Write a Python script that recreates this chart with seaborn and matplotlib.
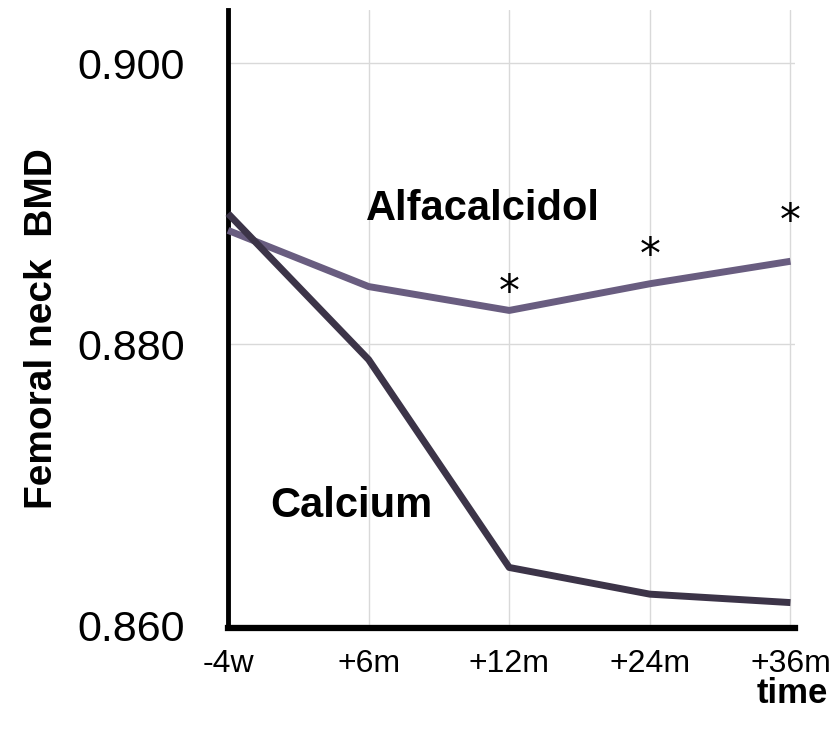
import matplotlib
matplotlib.use("Agg")
import matplotlib.pyplot as plt
import seaborn as sns
import pandas as pd

categories = ["-4w", "+6m", "+12m", "+24m", "+36m"]
alfacalcidol = [0.8881, 0.8841, 0.8824, 0.8843, 0.8859]
calcium = [0.8893, 0.8789, 0.8641, 0.8622, 0.8616]
star_positions = ["+12m", "+24m", "+36m"]
y_ticks = [0.860, 0.880, 0.900]
y_tick_labels = ["0.860", "0.880", "0.900"]

sns.set_theme(style="white", rc={"text.color": "black", "xtick.color": "black",
                                 "ytick.color": "black", "axes.labelcolor": "black"})
plt.rcParams["font.family"] = ["Liberation Sans", "DejaVu Sans"]

pos = {c: i for i, c in enumerate(categories)}
df = pd.DataFrame({
    "time": [pos[c] for c in categories] * 2,
    "BMD": alfacalcidol + calcium,
    "group": ["Alfacalcidol"] * len(categories) + ["Calcium"] * len(categories),
})

fig = plt.figure(figsize=(8.33, 7.34), dpi=100)
ax = fig.add_axes([0.2737, 0.1444, 0.6803, 0.8416])

sns.lineplot(data=df, x="time", y="BMD", hue="group",
             palette={"Alfacalcidol": "#695d80", "Calcium": "#3c3448"},
             linewidth=5, sort=False, legend=False, ax=ax, zorder=3)
for ln in ax.lines:
    ln.set_clip_on(False)
    ln.set_solid_capstyle("butt")

ax.set_xlim(0, 4.03)
ax.set_ylim(0.85979, 0.90377)
ax.set_xticks(range(len(categories)))
ax.set_xticklabels(categories, fontsize=23)
ax.set_yticks(y_ticks)
ax.set_yticklabels(y_tick_labels, fontsize=31)
ax.tick_params(axis="x", length=4, width=1, color="#d9d9d9", pad=11, direction="out",
               labelcolor="black")
ax.tick_params(axis="y", length=0, pad=31, labelcolor="black")

ax.grid(True, color="#d9d9d9", linewidth=1)
ax.set_axisbelow(True)
for s in ["top", "right"]:
    ax.spines[s].set_visible(False)
ax.spines["left"].set_linewidth(3.5)
ax.spines["left"].set_color("black")
ax.spines["bottom"].set_linewidth(4.5)
ax.spines["bottom"].set_color("black")

ax.set_xlabel("")
ax.set_ylabel("")
fig.text(0.050, 0.553, "Femoral neck  BMD", rotation=90, fontsize=28, fontweight="bold",
         ha="center", va="center", color="black")
fig.text(0.951, 0.055, "time", fontsize=25, fontweight="bold", ha="center", va="center",
         color="black")

ax.text(1.81, 0.8896, "Alfacalcidol", fontsize=30, fontweight="bold", ha="center",
        va="center", color="black")
ax.text(0.88, 0.8685, "Calcium", fontsize=30, fontweight="bold", ha="center",
        va="center", color="black")

star_y = [0.88363, 0.88626, 0.88868]
for c, yv in zip(star_positions, star_y):
    ax.text(pos[c], yv, "*", fontsize=30, ha="center", va="center", color="black",
            family=["DejaVu Sans"])

fig.savefig("out.png", dpi=100)
